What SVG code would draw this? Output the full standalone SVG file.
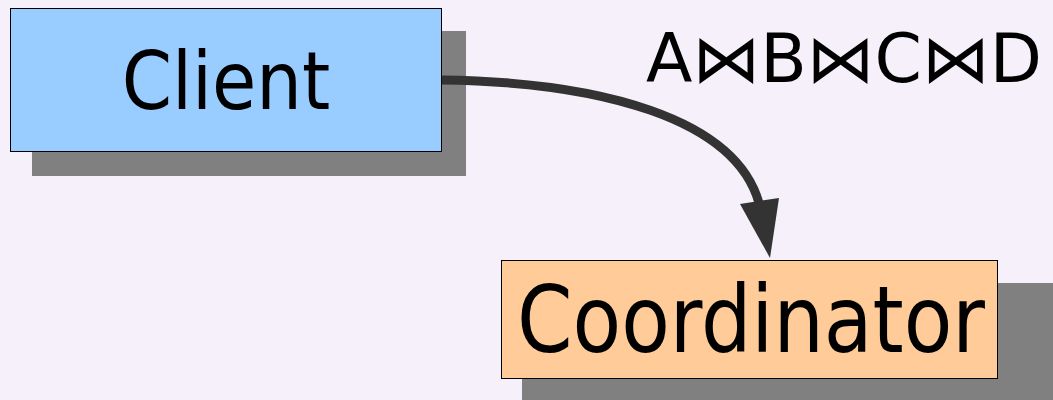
<svg xmlns="http://www.w3.org/2000/svg" width="1053" height="400" viewBox="0 0 1053 400">
  <style>
    .shadow { fill: #808080; }
    .box { stroke: #000; stroke-width: 1; }
    .label { font-family: "DejaVu Sans Condensed", "DejaVu Sans", sans-serif; fill: #000; text-anchor: middle; }
    .edge { fill: none; stroke: #333; stroke-width: 9; }
    .head { fill: #333; }
  </style>
  <rect width="1053" height="400" fill="#f5f0fa"/>

  <g id="client">
    <rect class="shadow" x="32" y="31" width="434" height="145"/>
    <rect class="box" x="10.5" y="8.5" width="431" height="143" fill="#99ccff"/>
    <text class="label" x="226" y="109" font-size="80">Client</text>
  </g>

  <g id="coordinator">
    <rect class="shadow" x="522" y="283" width="531" height="117"/>
    <rect class="box" x="501.5" y="260.5" width="496" height="118" fill="#ffcc99"/>
    <text class="label" x="751" y="352" font-size="92" textLength="468" lengthAdjust="spacingAndGlyphs">Coordinator</text>
  </g>

  <g id="connectors">
    <path class="edge" d="M442,80 C600,82 735,118 759,203"/>
    <polygon class="head" points="740,204 779,198 770,258"/>
    <text class="label" x="844" y="82" font-size="67" textLength="396" lengthAdjust="spacingAndGlyphs">A⋈B⋈C⋈D</text>
  </g>
</svg>
